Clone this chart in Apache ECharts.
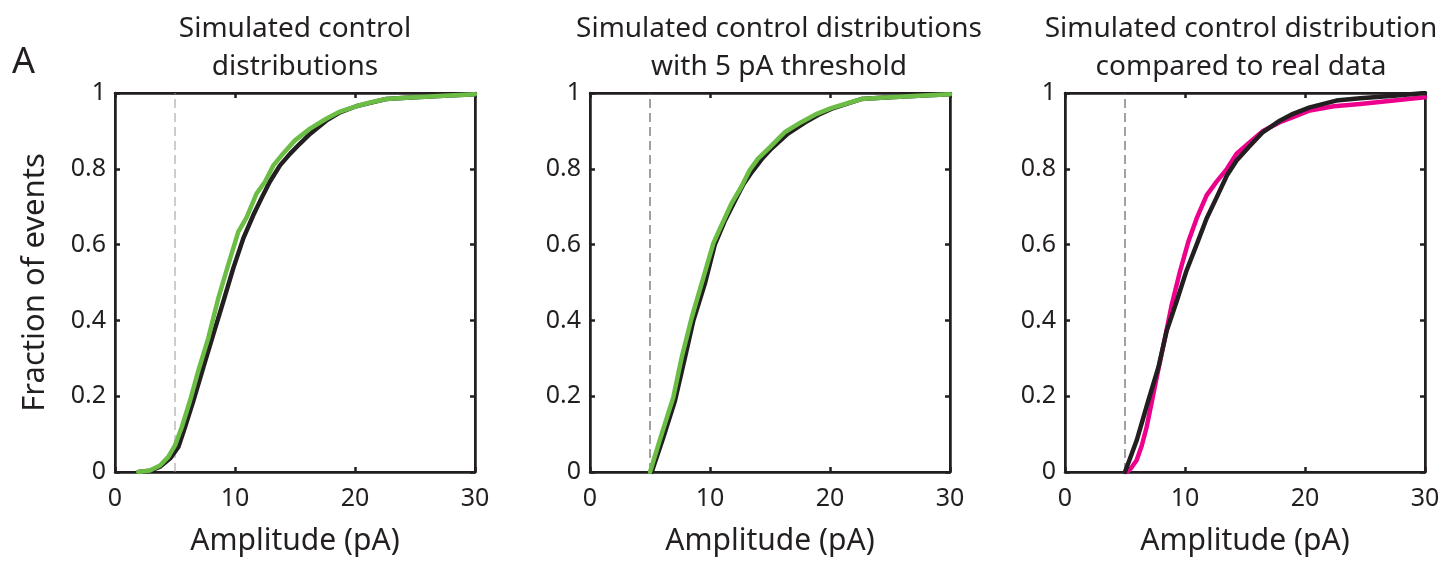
<!DOCTYPE html>
<html>
<head>
<meta charset="utf-8">
<script src="https://cdn.jsdelivr.net/npm/echarts@6/dist/echarts.min.js"></script>
<style>
html,body{margin:0;padding:0;background:#fff;}
#c{width:1447px;height:561px;}
</style>
</head>
<body>
<div id="c"></div>
<script>
// ---------- data (amplitude pA, cumulative fraction) ----------
var xTicks = [0, 10, 20, 30];
var yTicks = [0, 0.2, 0.4, 0.6, 0.8, 1];
var threshold = 5;

var titles = [
  'Simulated control\ndistributions',
  'Simulated control distributions\nwith 5 pA threshold',
  'Simulated control distribution\ncompared to real data'
];

// Panel 1: simulated control distributions (black & green)
var p1Black = [[1.94,0],[2.9,0.003],[3.75,0.014],[4.6,0.036],[5.28,0.066],[5.83,0.118],[6.53,0.188],[7.36,0.276],[8.19,0.363],[9.03,0.45],[9.86,0.538],[10.7,0.617],[11.53,0.678],[12.2,0.722],[12.9,0.766],[13.75,0.809],[14.6,0.84],[15.4,0.866],[16.25,0.892],[17.6,0.927],[18.75,0.949],[20.1,0.965],[21.25,0.974],[22.6,0.984],[24.6,0.988],[27.4,0.993],[30,0.997]];
var p1Green = [[1.94,0],[2.9,0.004],[3.75,0.017],[4.44,0.04],[5.0,0.07],[5.56,0.118],[6.25,0.188],[6.94,0.267],[7.78,0.354],[8.61,0.459],[9.44,0.547],[10.28,0.634],[10.97,0.672],[11.8,0.735],[12.5,0.766],[13.2,0.809],[14.0,0.84],[15.0,0.875],[16.25,0.906],[17.6,0.932],[18.75,0.951],[20.1,0.965],[21.25,0.975],[22.6,0.984],[24.6,0.988],[27.4,0.993],[30,0.997]];

// Panel 2: with 5 pA threshold (black & green)
var p2Black = [[5.14,0],[6.1,0.09],[7.08,0.188],[7.9,0.3],[8.6,0.398],[9.6,0.5],[10.4,0.6],[11.2,0.66],[12.1,0.717],[12.8,0.76],[13.5,0.792],[14.3,0.825],[15.1,0.853],[16.5,0.893],[17.9,0.922],[19.0,0.942],[20.1,0.958],[21.25,0.97],[22.6,0.984],[24.6,0.988],[27.4,0.993],[30,0.997]];
var p2Green = [[5.0,0],[5.97,0.1],[6.94,0.197],[7.64,0.302],[8.47,0.407],[9.44,0.512],[10.28,0.604],[10.97,0.652],[11.8,0.709],[12.6,0.752],[13.3,0.796],[14.0,0.827],[15.0,0.857],[16.25,0.897],[17.6,0.923],[18.9,0.945],[20.1,0.96],[21.25,0.971],[22.6,0.984],[24.6,0.988],[27.4,0.993],[30,0.997]];

// Panel 3: simulated (black) vs real data (magenta)
var p3Real = [[5.14,0],[5.5,0.01],[5.97,0.031],[6.4,0.07],[6.8,0.118],[7.2,0.18],[7.64,0.249],[8.33,0.354],[8.9,0.442],[9.58,0.529],[10.28,0.608],[10.97,0.669],[11.8,0.73],[12.6,0.765],[13.5,0.8],[14.3,0.84],[15.4,0.87],[16.5,0.9],[17.9,0.923],[19.0,0.936],[20.4,0.954],[22.4,0.965],[24.6,0.971],[27.4,0.98],[30,0.989]];
var p3Sim = [[5.0,0],[5.97,0.083],[6.94,0.188],[7.78,0.276],[8.47,0.372],[9.3,0.45],[10.1,0.529],[10.97,0.6],[11.8,0.669],[12.6,0.722],[13.5,0.783],[14.3,0.822],[15.3,0.857],[16.5,0.897],[17.9,0.927],[19.0,0.945],[20.4,0.962],[22.6,0.98],[24.6,0.986],[27.4,0.993],[30,1.0]];

// ---------- chart ----------
var FONT = 'Noto Sans';
var INK = '#231f20';
var GREEN = '#6cbd45';
var MAGENTA = '#ec008c';
var lefts = [115, 590, 1065];
var titleCenters = [290, 774, 1236];
var W = 360, TOP = 93, H = 382;

var grids = [], xAxes = [], yAxes = [], series = [], titleArr = [];
lefts.forEach(function (l, i) {
  grids.push({left: l, top: TOP, width: W, height: H, show: true, borderColor: INK, borderWidth: 2, backgroundColor: '#fff'});
  var common = {min: xTicks[0], max: xTicks[xTicks.length - 1], interval: xTicks[1] - xTicks[0], gridIndex: i, splitLine: {show: false},
    axisLine: {show: true, onZero: false, lineStyle: {color: INK, width: 2.5}},
    axisTick: {show: true, inside: true, length: 5, lineStyle: {color: INK, width: 2.5}}};
  xAxes.push(Object.assign({}, common, {type: 'value', position: 'bottom',
    axisLabel: {color: INK, fontFamily: FONT, fontSize: 25, margin: 14},
    name: 'Amplitude (pA)', nameLocation: 'middle', nameGap: 54,
    nameTextStyle: {color: INK, fontFamily: FONT, fontSize: 30}}));
  xAxes.push(Object.assign({}, common, {type: 'value', position: 'top', axisLabel: {show: false}}));
  var ycommon = {type: 'value', min: yTicks[0], max: yTicks[yTicks.length - 1], interval: 0.2, gridIndex: i, splitLine: {show: false},
    axisLine: {show: true, onZero: false, lineStyle: {color: INK, width: 2.5}},
    axisTick: {show: true, inside: true, length: 5, lineStyle: {color: INK, width: 2.5}}};
  yAxes.push(Object.assign({}, ycommon, {position: 'left',
    axisLabel: {color: INK, fontFamily: FONT, fontSize: 25, margin: 9,
      formatter: function (v) { return String(Math.round(v * 10) / 10); }},
    name: i === 0 ? 'Fraction of events' : '', nameLocation: 'middle', nameGap: 64,
    nameTextStyle: {color: INK, fontFamily: FONT, fontSize: 31}}));
  yAxes.push(Object.assign({}, ycommon, {position: 'right', axisLabel: {show: false}}));
  titleArr.push({text: titles[i], left: titleCenters[i], top: 5, textAlign: 'center',
    textStyle: {color: INK, fontFamily: FONT, fontSize: 28, fontWeight: 'normal', lineHeight: 38}});
  // threshold line
  series.push({type: 'line', xAxisIndex: 2 * i, yAxisIndex: 2 * i, data: [[threshold, 0], [threshold, 1]],
    symbol: 'none', silent: true,
    lineStyle: {color: i === 0 ? '#9a9a9a' : '#444', width: 1, type: [9, 5]}, z: 1});
});
titleArr.push({text: 'A', left: 7, top: 40, textStyle: {color: INK, fontFamily: FONT, fontSize: 36, fontWeight: 'normal'}});

function curve(data, gi, color, z) {
  return {type: 'line', xAxisIndex: 2 * gi, yAxisIndex: 2 * gi, data: data, symbol: 'none',
    silent: true, lineStyle: {color: color, width: 4.5, cap: 'round', join: 'round'}, z: z, animation: false};
}
series.push(curve(p1Black, 0, INK, 3));
series.push(curve(p1Green, 0, GREEN, 4));
series.push(curve(p2Black, 1, INK, 3));
series.push(curve(p2Green, 1, GREEN, 4));
series.push(curve(p3Real, 2, MAGENTA, 3));
series.push(curve(p3Sim, 2, INK, 4));

var chart = echarts.init(document.getElementById('c'), null, {renderer: 'canvas'});
chart.setOption({
  animation: false,
  backgroundColor: '#fff',
  title: titleArr,
  grid: grids,
  xAxis: xAxes,
  yAxis: yAxes,
  series: series
});
</script>
</body>
</html>
